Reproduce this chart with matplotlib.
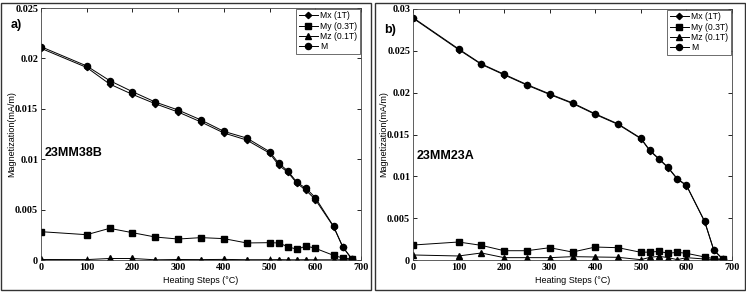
import matplotlib
matplotlib.use("Agg")
import matplotlib.pyplot as plt
from matplotlib.patches import Rectangle

# heating steps (°C)
steps = [0, 100, 150, 200, 250, 300, 350, 400, 450, 500, 520, 540, 560, 580, 600, 640, 660, 680]

# panel a) 23MM38B
mx_a = [0.0210, 0.0191, 0.01746, 0.01643, 0.0155, 0.01468, 0.01369, 0.0126, 0.0119, 0.0106,
        0.0094, 0.0087, 0.0076, 0.0069, 0.0060, 0.0033, 0.0013, 0.0001]
my_a = [0.00281, 0.00251, 0.00314, 0.00271, 0.00228, 0.00208, 0.00222, 0.00212, 0.00169, 0.00172,
        0.00169, 0.00132, 0.00106, 0.00139, 0.00116, 0.00046, 0.0002, 0.0001]
mz_a = [0.00005, 0.00004, 0.00015, 0.00015, 0.00002, 0.00005, 0.00004, 0.00006, 0.00003, 0.00003,
        0.00004, 0.00002, 0.00002, 0.00003, 0.00002, 0.00002, 0.00002, 0.00002]
m_a = [0.02116, 0.01925, 0.0178, 0.0167, 0.01567, 0.01488, 0.01389, 0.01276, 0.0121, 0.01075,
       0.0096, 0.00883, 0.0077, 0.0071, 0.0062, 0.00334, 0.00132, 0.0001]

# panel b) 23MM23A
mx_b = [0.02890, 0.02515, 0.02338, 0.02213, 0.02090, 0.01978, 0.01871, 0.01740, 0.01620, 0.01450,
        0.01303, 0.01204, 0.01100, 0.00966, 0.00890, 0.00458, 0.00118, 0.0001]
my_b = [0.00179, 0.00215, 0.00175, 0.00111, 0.00111, 0.00147, 0.00095, 0.00155, 0.00147, 0.00092,
        0.00095, 0.00103, 0.0008, 0.00092, 0.0008, 0.00036, 0.00016, 0.0001]
mz_b = [0.0006, 0.00048, 0.00084, 0.00028, 0.00028, 0.00028, 0.0004, 0.00036, 0.00032, 0.00004,
        0.00032, 0.00044, 0.00028, 0.00004, 0.00028, 0.00012, 0.00004, 0.00004]
m_b = [0.02897, 0.02523, 0.02344, 0.0222, 0.02097, 0.01985, 0.01878, 0.01747, 0.01627, 0.01456,
       0.01309, 0.0121, 0.01106, 0.00971, 0.00895, 0.00462, 0.0012, 0.0001]

labels = ["Mx (1T)", "My (0.3T)", "Mz (0.1T)", "M"]
markers = ["D", "s", "^", "o"]
msizes = [3.2, 3.8, 4.2, 4.4]

W, H = 746, 293
fig = plt.figure(figsize=(W / 100, H / 100), dpi=100)

# panel frames
for x0, x1 in [(1, 371), (375, 745)]:
    fig.add_artist(Rectangle((x0 / W, 3 / H), (x1 - x0) / W, (290 - 3) / H,
                             transform=fig.transFigure, fill=False, lw=1.0, ec="#333333"))

panels = [
    (41, 361, 8, [mx_a, my_a, mz_a, m_a], 0.025, "a)", 11, 25, "23MM38B", 0.4265),
    (413, 732, 9, [mx_b, my_b, mz_b, m_b], 0.03, "b)", 384, 30, "23MM23A", 0.415),
]

for left, right, top, series, ymax, tag, tx, ty, name, name_y in panels:
    ax = fig.add_axes([left / W, (H - 260) / H, (right - left) / W, (260 - top) / H])
    for vals, lab, mk, ms in zip(series, labels, markers, msizes):
        ax.plot(steps, vals, color="black", lw=0.7, marker=mk, ms=ms, label=lab)
    ax.set_xlim(0, 700)
    ax.set_ylim(0, ymax)
    ax.set_xticks(range(0, 701, 100))
    yt = [i * 0.005 for i in range(int(round(ymax / 0.005)) + 1)]
    ax.set_yticks(yt)
    ax.set_yticklabels(["0"] + ["%g" % v for v in yt[1:]])
    ax.tick_params(direction="in", top=True, right=True, length=3, width=0.6, pad=2)
    for lab in ax.get_xticklabels() + ax.get_yticklabels():
        lab.set_family("Liberation Serif")
        lab.set_fontweight("bold")
        lab.set_fontsize(7.3)
    for s in ax.spines.values():
        s.set_linewidth(0.6)
        s.set_color("#444444")
    ax.set_xlabel("Heating Steps (°C)", fontsize=6.5, family="Liberation Sans", labelpad=3)
    ax.set_ylabel("Magnetization(mA/m)", fontsize=6.5, family="Liberation Sans", labelpad=-1)
    leg = ax.legend(loc="upper right", prop={"family": "Liberation Sans", "size": 6.2},
                    fancybox=False, framealpha=1, edgecolor="#555555", borderpad=0.3,
                    labelspacing=0.15, handlelength=2.2, handletextpad=0.3, borderaxespad=0.1)
    leg.get_frame().set_linewidth(0.6)
    fig.text(tx / W, 1 - ty / H, tag, fontsize=9, fontweight="bold",
             family="Liberation Sans", va="center")
    ax.text(0.012, name_y, name, transform=ax.transAxes, fontsize=9, fontweight="bold",
            family="Liberation Sans", va="center")

fig.savefig("out.png", dpi=100)
